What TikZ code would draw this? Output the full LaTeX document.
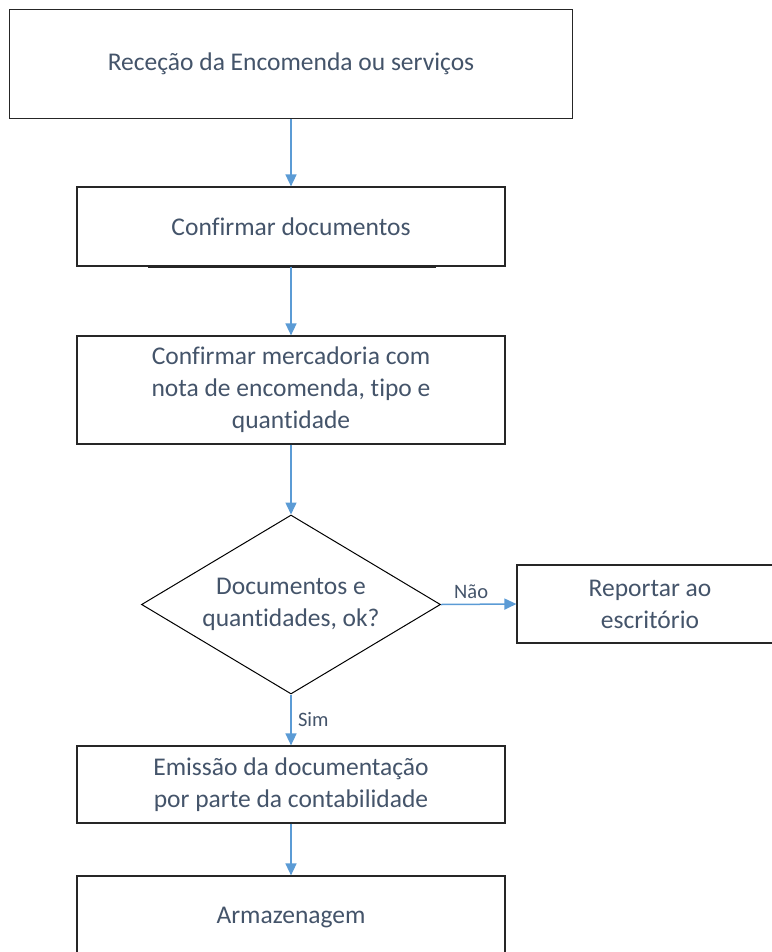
\documentclass[tikz,border=0pt]{standalone}
\usepackage{fontspec}
\setmainfont{Carlito}[Ligatures=NoCommon]
\usetikzlibrary{arrows.meta,shapes.geometric,positioning}
\definecolor{txtblue}{HTML}{44546A}
\definecolor{arrblue}{HTML}{5B9BD5}
\definecolor{framegray}{HTML}{262626}
\def\mx{291}

\begin{document}
\begin{tikzpicture}
    [
        x=1pt, y=-1pt,
        step box/.style={draw=framegray, line width=1.2pt, fill=white, text=txtblue,
            align=center, inner sep=0pt, font=\fontsize{25.5}{32}\selectfont},
        decision/.style={diamond, draw=black, line width=1pt, fill=white, text=txtblue,
            align=center, inner sep=0pt, aspect=1.67, minimum width=299pt, minimum height=179pt,
            font=\fontsize{25.5}{32}\selectfont},
        flow/.style={arrblue, line width=1.5pt, -{Triangle[length=12pt,width=11pt]}},
        answer/.style={text=txtblue, font=\fontsize{20.5}{24}\selectfont}
    ]
    \useasboundingbox (0,0) rectangle (771,952);

    \node[step box, minimum width=563pt, minimum height=109pt] (recep) at (\mx,64)
        {Receção da Encomenda ou serviços};
    \node[step box, minimum width=428pt, minimum height=79pt] (confdoc) at (\mx,226.5)
        {Confirmar documentos};
    \node[step box, minimum width=428pt, minimum height=108pt] (confmerc) at (\mx,390)
        {Confirmar mercadoria com\\nota de encomenda, tipo e\\quantidade};
    \node[decision] (decisao) at (\mx,604.5)
        {Documentos e\\quantidades, ok?};
    \node[step box, minimum width=266pt, minimum height=78pt] (reportar) at (650,604)
        {Reportar ao\\escritório};
    \node[step box, minimum width=428pt, minimum height=77pt] (emissao) at (\mx,784.5)
        {Emissão da documentação\\por parte da contabilidade};
    \node[step box, minimum width=428pt, minimum height=82pt] (armaz) at (\mx,917)
        {Armazenagem};

    % darker stroke under the second step
    \draw[framegray, line width=2.4pt] ([xshift=72pt]confdoc.south west) -- ([xshift=-70pt]confdoc.south east);

    \draw[flow] (recep) -- (confdoc);
    \draw[flow] (confdoc) -- (confmerc);
    \draw[flow] (confmerc) -- (decisao);
    \draw[flow] (decisao.east) -- (reportar.west)
        node[answer, pos=0.4, above=2pt] {Não};
    \draw[flow] (decisao.south) -- (emissao.north)
        node[answer, midway, right=3pt] {Sim};
    \draw[flow] (emissao) -- (armaz);
\end{tikzpicture}
\end{document}
